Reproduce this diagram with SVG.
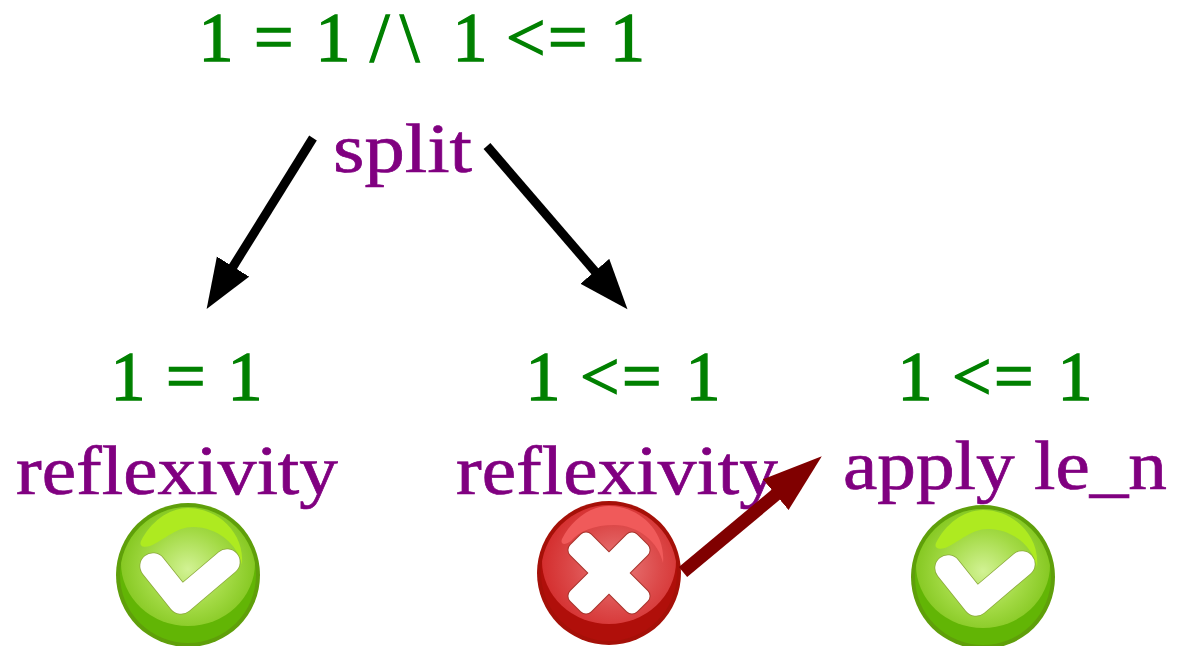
<svg xmlns="http://www.w3.org/2000/svg" xmlns:xlink="http://www.w3.org/1999/xlink" width="1186" height="646" viewBox="0 0 1186 646">
<style>
text{font-family:"Liberation Serif","Times New Roman",serif;font-size:70px;stroke-width:1}
.goal{fill:#008000;stroke:#008000;stroke-width:1.4}
.tactic{fill:#800080;stroke:#800080;stroke-width:.7}
.black{stroke:#000;stroke-width:9;fill:none}
.red{stroke:#800000;stroke-width:13;fill:none}
</style>
<defs>
<marker id="hb" markerUnits="userSpaceOnUse" markerWidth="52" markerHeight="40" refX="1" refY="19" orient="auto"><path d="M0,0 L50,19 L0,38 Z" fill="#000"/></marker>
<marker id="hr" markerUnits="userSpaceOnUse" markerWidth="62" markerHeight="42" refX="1" refY="20" orient="auto"><path d="M0,0 L60,20 L0,40 Z" fill="#800000"/></marker>
<radialGradient id="gg" cx="0.5" cy="0.55" r="0.55"><stop offset="0" stop-color="#d2f294"/><stop offset="0.55" stop-color="#a3da45"/><stop offset="1" stop-color="#7fc41a"/></radialGradient>
<radialGradient id="rg" cx="0.55" cy="0.55" r="0.55"><stop offset="0" stop-color="#ea7c7c"/><stop offset="0.6" stop-color="#dc4a4a"/><stop offset="1" stop-color="#d42e2e"/></radialGradient>
<clipPath id="ic"><circle r="68"/></clipPath>
<symbol id="ok" overflow="visible">
<circle r="72" fill="#5f9f0a"/><circle r="68" fill="#62b505"/>
<ellipse cy="-12" rx="67" ry="63" fill="url(#gg)" clip-path="url(#ic)"/>
<path d="M-47,-34 C-38,-52 -20,-67 0,-67 C30,-67 57,-42 54,-10 C50,-30 30,-48 5,-48 C-12,-48 -22,-36 -38,-29 C-45,-27 -49,-29 -47,-34 Z" fill="#aeea20"/>
<path d="M-35,-9 L-7,26 L39,-13" fill="none" stroke="#8aa83a" stroke-width="27" stroke-linecap="round" stroke-linejoin="round"/>
<path d="M-35,-9 L-7,26 L39,-13" fill="none" stroke="#fff" stroke-width="25.5" stroke-linecap="round" stroke-linejoin="round"/>
</symbol>
<symbol id="bad" overflow="visible">
<circle r="72" fill="#a51008"/><circle r="68" fill="#b00f0a"/>
<ellipse cy="-12" rx="67" ry="63" fill="url(#rg)" clip-path="url(#ic)"/>
<path d="M-47,-34 C-38,-52 -20,-67 0,-67 C30,-67 57,-42 54,-10 C50,-30 30,-48 5,-48 C-14,-48 -30,-42 -38,-32 C-45,-27 -49,-29 -47,-34 Z" fill="#f05a5a"/>
<g fill="#a8342c"><rect x="-48" y="-15.5" width="96" height="31" rx="8" transform="rotate(45)"/><rect x="-48" y="-15.5" width="96" height="31" rx="8" transform="rotate(-45)"/></g>
<g fill="#fff"><rect x="-47" y="-14.5" width="94" height="29" rx="7" transform="rotate(45)"/><rect x="-47" y="-14.5" width="94" height="29" rx="7" transform="rotate(-45)"/></g>
</symbol>
</defs>
<g id="root"><text class="goal" y="61" x="198.5 234 254 294 315.5 350 370 400 430 452.5 488 506 548 590 610">1 = 1 /\ 1 &lt;= 1</text></g>
<g id="split"><text class="tactic" x="333" y="172" textLength="139" lengthAdjust="spacingAndGlyphs">split</text></g>
<g id="left">
<text class="goal" y="400" x="110.5 146 166 206 227.5">1 = 1</text>
<text class="tactic" x="16" y="494" textLength="322" lengthAdjust="spacingAndGlyphs">reflexivity</text>
<use href="#ok" xlink:href="#ok" x="188" y="575"/>
</g>
<g id="middle">
<text class="goal" y="400" x="525.5 561 580 622 662 685.5">1 &lt;= 1</text>
<text class="tactic" x="456" y="494" textLength="322" lengthAdjust="spacingAndGlyphs">reflexivity</text>
<use href="#bad" xlink:href="#bad" x="609" y="573"/>
</g>
<g id="right">
<text class="goal" y="400" x="897.5 933 952 994 1034 1057.5">1 &lt;= 1</text>
<text class="tactic" x="843" y="489" textLength="324" lengthAdjust="spacingAndGlyphs">apply le_n</text>
<use href="#ok" xlink:href="#ok" x="983" y="577"/>
</g>
<g id="connectors">
<line class="black" x1="313" y1="138" x2="232.5" y2="267.5" marker-end="url(#hb)"/>
<line class="black" x1="487" y1="146" x2="595.5" y2="272" marker-end="url(#hb)"/>
<line class="red" x1="683" y1="572" x2="776.5" y2="494" marker-end="url(#hr)"/>
</g>
</svg>
